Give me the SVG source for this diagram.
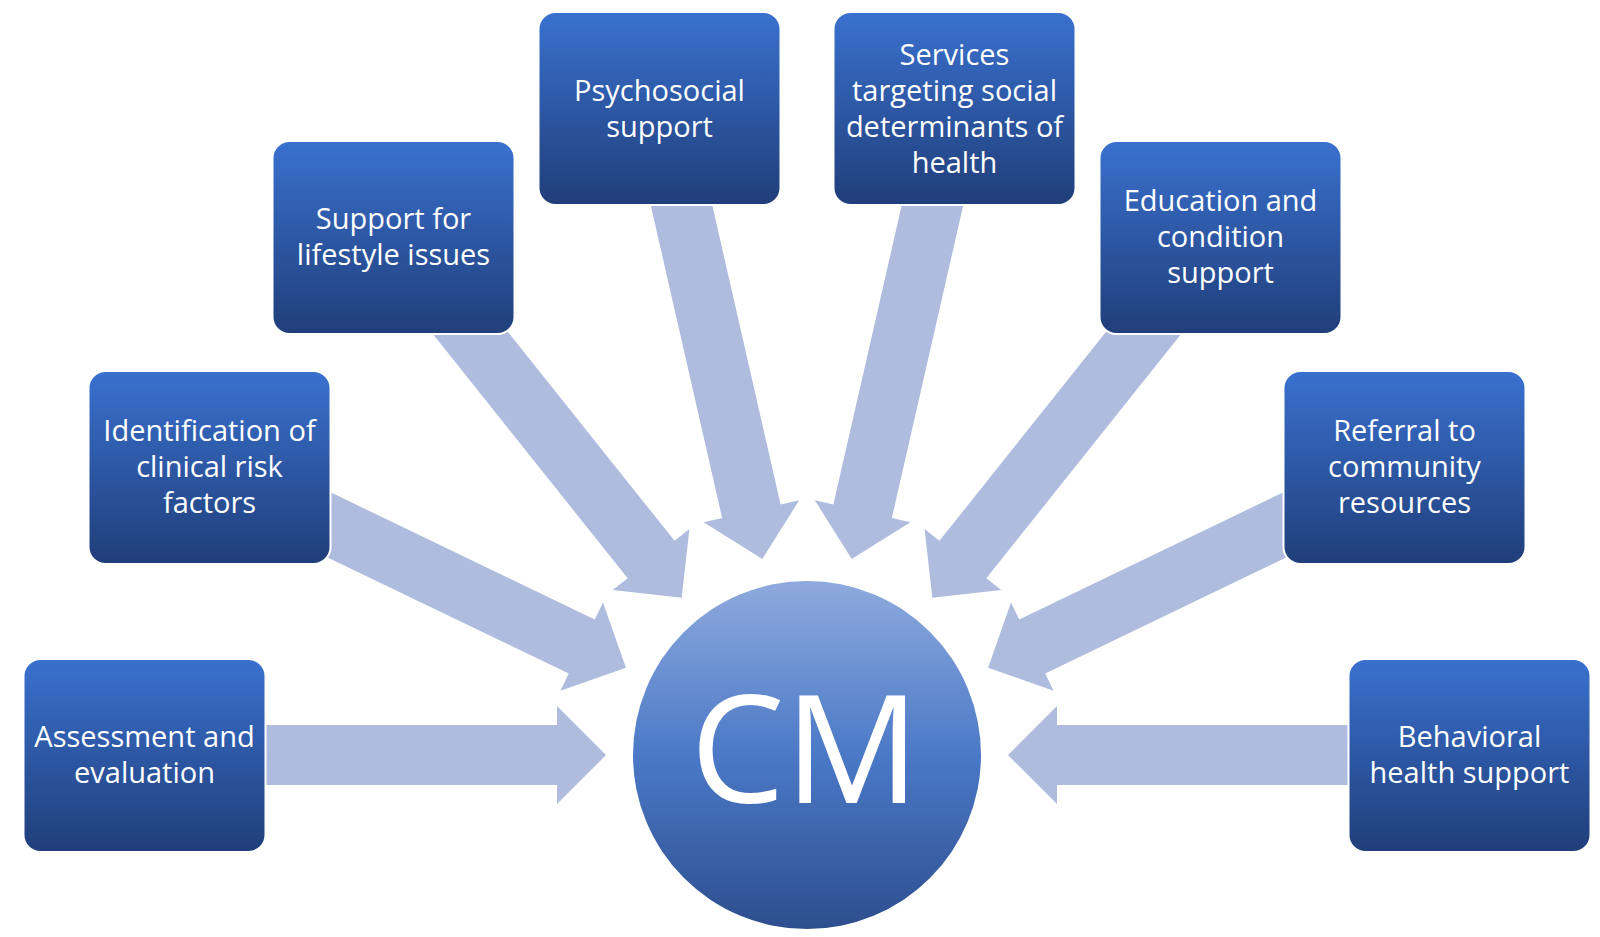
<svg xmlns="http://www.w3.org/2000/svg" width="1600" height="937" viewBox="0 0 1600 937">
<defs>
<linearGradient id="boxGrad" x1="0" y1="0" x2="0" y2="1">
<stop offset="0" stop-color="#3A71CF"/>
<stop offset="1" stop-color="#203E79"/>
</linearGradient>
<linearGradient id="circGrad" x1="0" y1="0" x2="0" y2="1">
<stop offset="0" stop-color="#8FAADD"/>
<stop offset="0.5" stop-color="#4B79C7"/>
<stop offset="1" stop-color="#2D4E8E"/>
</linearGradient>
<polygon id="arrow" points="201,0 250,-49 250,-30 580,-30 580,30 250,30 250,49"/>
</defs>
<style>
.box{fill:url(#boxGrad);stroke:#ffffff;stroke-width:2}
.lbl{font-family:"Open Sans","Noto Sans","DejaVu Sans",sans-serif;font-size:29px;fill:#ffffff;text-anchor:middle}
.arr{fill:#AFBCDE}
</style>
<rect width="1600" height="937" fill="#ffffff"/>
<g id="connectors" class="arr">
<use href="#arrow" transform="translate(807,755) rotate(180)"/>
<use href="#arrow" transform="translate(807,755) rotate(205.714)"/>
<use href="#arrow" transform="translate(807,755) rotate(231.429)"/>
<use href="#arrow" transform="translate(807,755) rotate(257.143)"/>
<use href="#arrow" transform="translate(807,755) rotate(282.857)"/>
<use href="#arrow" transform="translate(807,755) rotate(308.571)"/>
<use href="#arrow" transform="translate(807,755) rotate(334.286)"/>
<use href="#arrow" transform="translate(807,755) rotate(0)"/>
</g>
<g id="cm">
<circle cx="807" cy="755" r="174" fill="url(#circGrad)"/>
<text x="805" y="803" font-family="'Open Sans','Noto Sans',sans-serif" font-size="150" fill="#ffffff" text-anchor="middle">CM</text>
</g>
<g id="assessment">
<rect class="box" x="23.5" y="659" width="242" height="193" rx="17"/>
<text class="lbl" x="144.5" y="747">Assessment and</text>
<text class="lbl" x="144.5" y="783">evaluation</text>
</g>
<g id="identification">
<rect class="box" x="88.5" y="371" width="242" height="193" rx="17"/>
<text class="lbl" x="209.5" y="441">Identification of</text>
<text class="lbl" x="209.5" y="477">clinical risk</text>
<text class="lbl" x="209.5" y="513">factors</text>
</g>
<g id="lifestyle">
<rect class="box" x="272.5" y="141" width="242" height="193" rx="17"/>
<text class="lbl" x="393.5" y="229">Support for</text>
<text class="lbl" x="393.5" y="265">lifestyle issues</text>
</g>
<g id="psychosocial">
<rect class="box" x="538.5" y="12" width="242" height="193" rx="17"/>
<text class="lbl" x="659.5" y="100.5">Psychosocial</text>
<text class="lbl" x="659.5" y="136.5">support</text>
</g>
<g id="services">
<rect class="box" x="833.5" y="12" width="242" height="193" rx="17"/>
<text class="lbl" x="954.5" y="64.5">Services</text>
<text class="lbl" x="954.5" y="100.5">targeting social</text>
<text class="lbl" x="954.5" y="136.5">determinants of</text>
<text class="lbl" x="954.5" y="172.5">health</text>
</g>
<g id="education">
<rect class="box" x="1099.5" y="141" width="242" height="193" rx="17"/>
<text class="lbl" x="1220.5" y="211">Education and</text>
<text class="lbl" x="1220.5" y="247">condition</text>
<text class="lbl" x="1220.5" y="283">support</text>
</g>
<g id="referral">
<rect class="box" x="1283.5" y="371" width="242" height="193" rx="17"/>
<text class="lbl" x="1404.5" y="441">Referral to</text>
<text class="lbl" x="1404.5" y="477">community</text>
<text class="lbl" x="1404.5" y="513">resources</text>
</g>
<g id="behavioral">
<rect class="box" x="1348.5" y="659" width="242" height="193" rx="17"/>
<text class="lbl" x="1469.5" y="747">Behavioral</text>
<text class="lbl" x="1469.5" y="783">health support</text>
</g>
</svg>
